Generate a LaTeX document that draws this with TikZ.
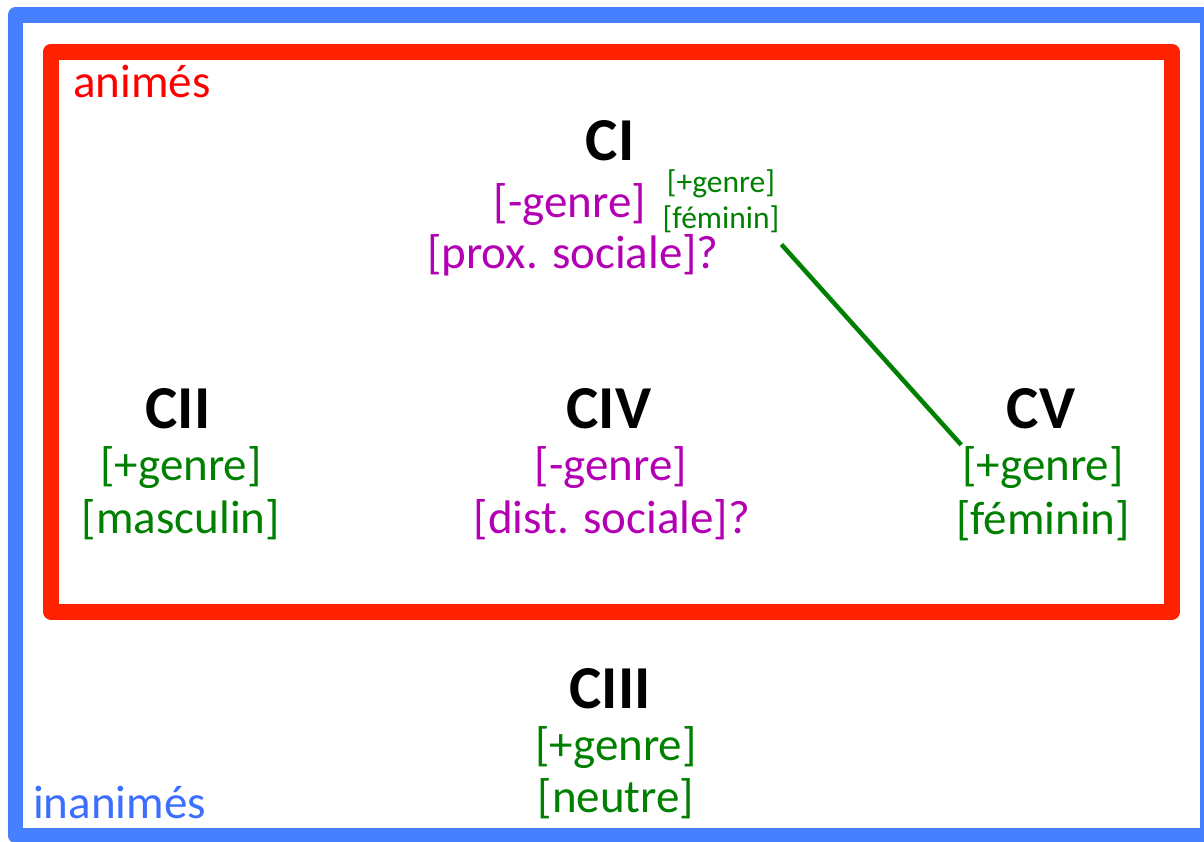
\documentclass[tikz,border=0pt]{standalone}
\usepackage{fontspec}
\setmainfont{Carlito}
\usetikzlibrary{calc}
\definecolor{frameblue}{RGB}{70,128,255}
\definecolor{framered}{RGB}{255,34,0}
\definecolor{lblpurple}{RGB}{180,0,180}
\definecolor{lblgreen}{RGB}{0,128,0}
\definecolor{txtred}{RGB}{255,0,0}
\definecolor{txtblue}{RGB}{60,110,255}
\begin{document}
\begin{tikzpicture}[x=1pt,y=-1pt,
  title/.style={font=\fontsize{61}{70}\selectfont\bfseries, anchor=base, inner sep=0pt},
  lbl/.style={font=\fontsize{47}{56}\selectfont, anchor=base, inner sep=0pt},
  smalllbl/.style={font=\fontsize{31.5}{37}\selectfont, anchor=base, inner sep=0pt},
  pur/.style={text=lblpurple},
  grn/.style={text=lblgreen}]
\useasboundingbox (0,0) rectangle (1204,841);
\fill[white] (0,0) rectangle (1204,841);
\draw[frameblue, line width=15.5pt, line join=round] (15.5,15) rectangle (1207.5,835.5);
\draw[framered, line width=16pt, line join=round] (51,51.5) rectangle (1172,611.5);
\node[lbl, anchor=base west, text=txtred] (anim) at (73,97) {animés};
\node[lbl, anchor=base west, text=txtblue] (inanim) at (33,818) {inanimés};
\node[title] (ci) at (610,160) {CI};
\node[lbl,pur] (cig) at (570,217) {[-genre]};
\node[lbl,pur] (cip) at (573,268) {[prox. sociale]?};
\node[smalllbl,grn] (cisg) at (721,192) {[+genre]};
\node[smalllbl,grn] (cisf) at (721,228) {[féminin]};
\node[title] (cii) at (178,428) {CII};
\node[lbl,grn] (ciig) at (181,480) {[+genre]};
\node[lbl,grn] (ciim) at (181,533) {[masculin]};
\node[title] (civ) at (609,428) {CIV};
\node[lbl,pur] (civg) at (611,480) {[-genre]};
\node[lbl,pur] (civd) at (612,533) {[dist. sociale]?};
\node[title] (cv) at (1041,428) {CV};
\node[lbl,grn] (cvg) at (1043,480) {[+genre]};
\node[lbl,grn] (cvf) at (1043,534) {[féminin]};
\node[title] (ciii) at (610,708) {CIII};
\node[lbl,grn] (ciiig) at (616,760) {[+genre]};
\node[lbl,grn] (ciiin) at (616,812) {[neutre]};
\draw[lblgreen, line width=4.5pt] ($(cisf.south east)+(2,12)$) -- ($(cvg.north west)+(-1,-1)$);
\end{tikzpicture}
\end{document}
